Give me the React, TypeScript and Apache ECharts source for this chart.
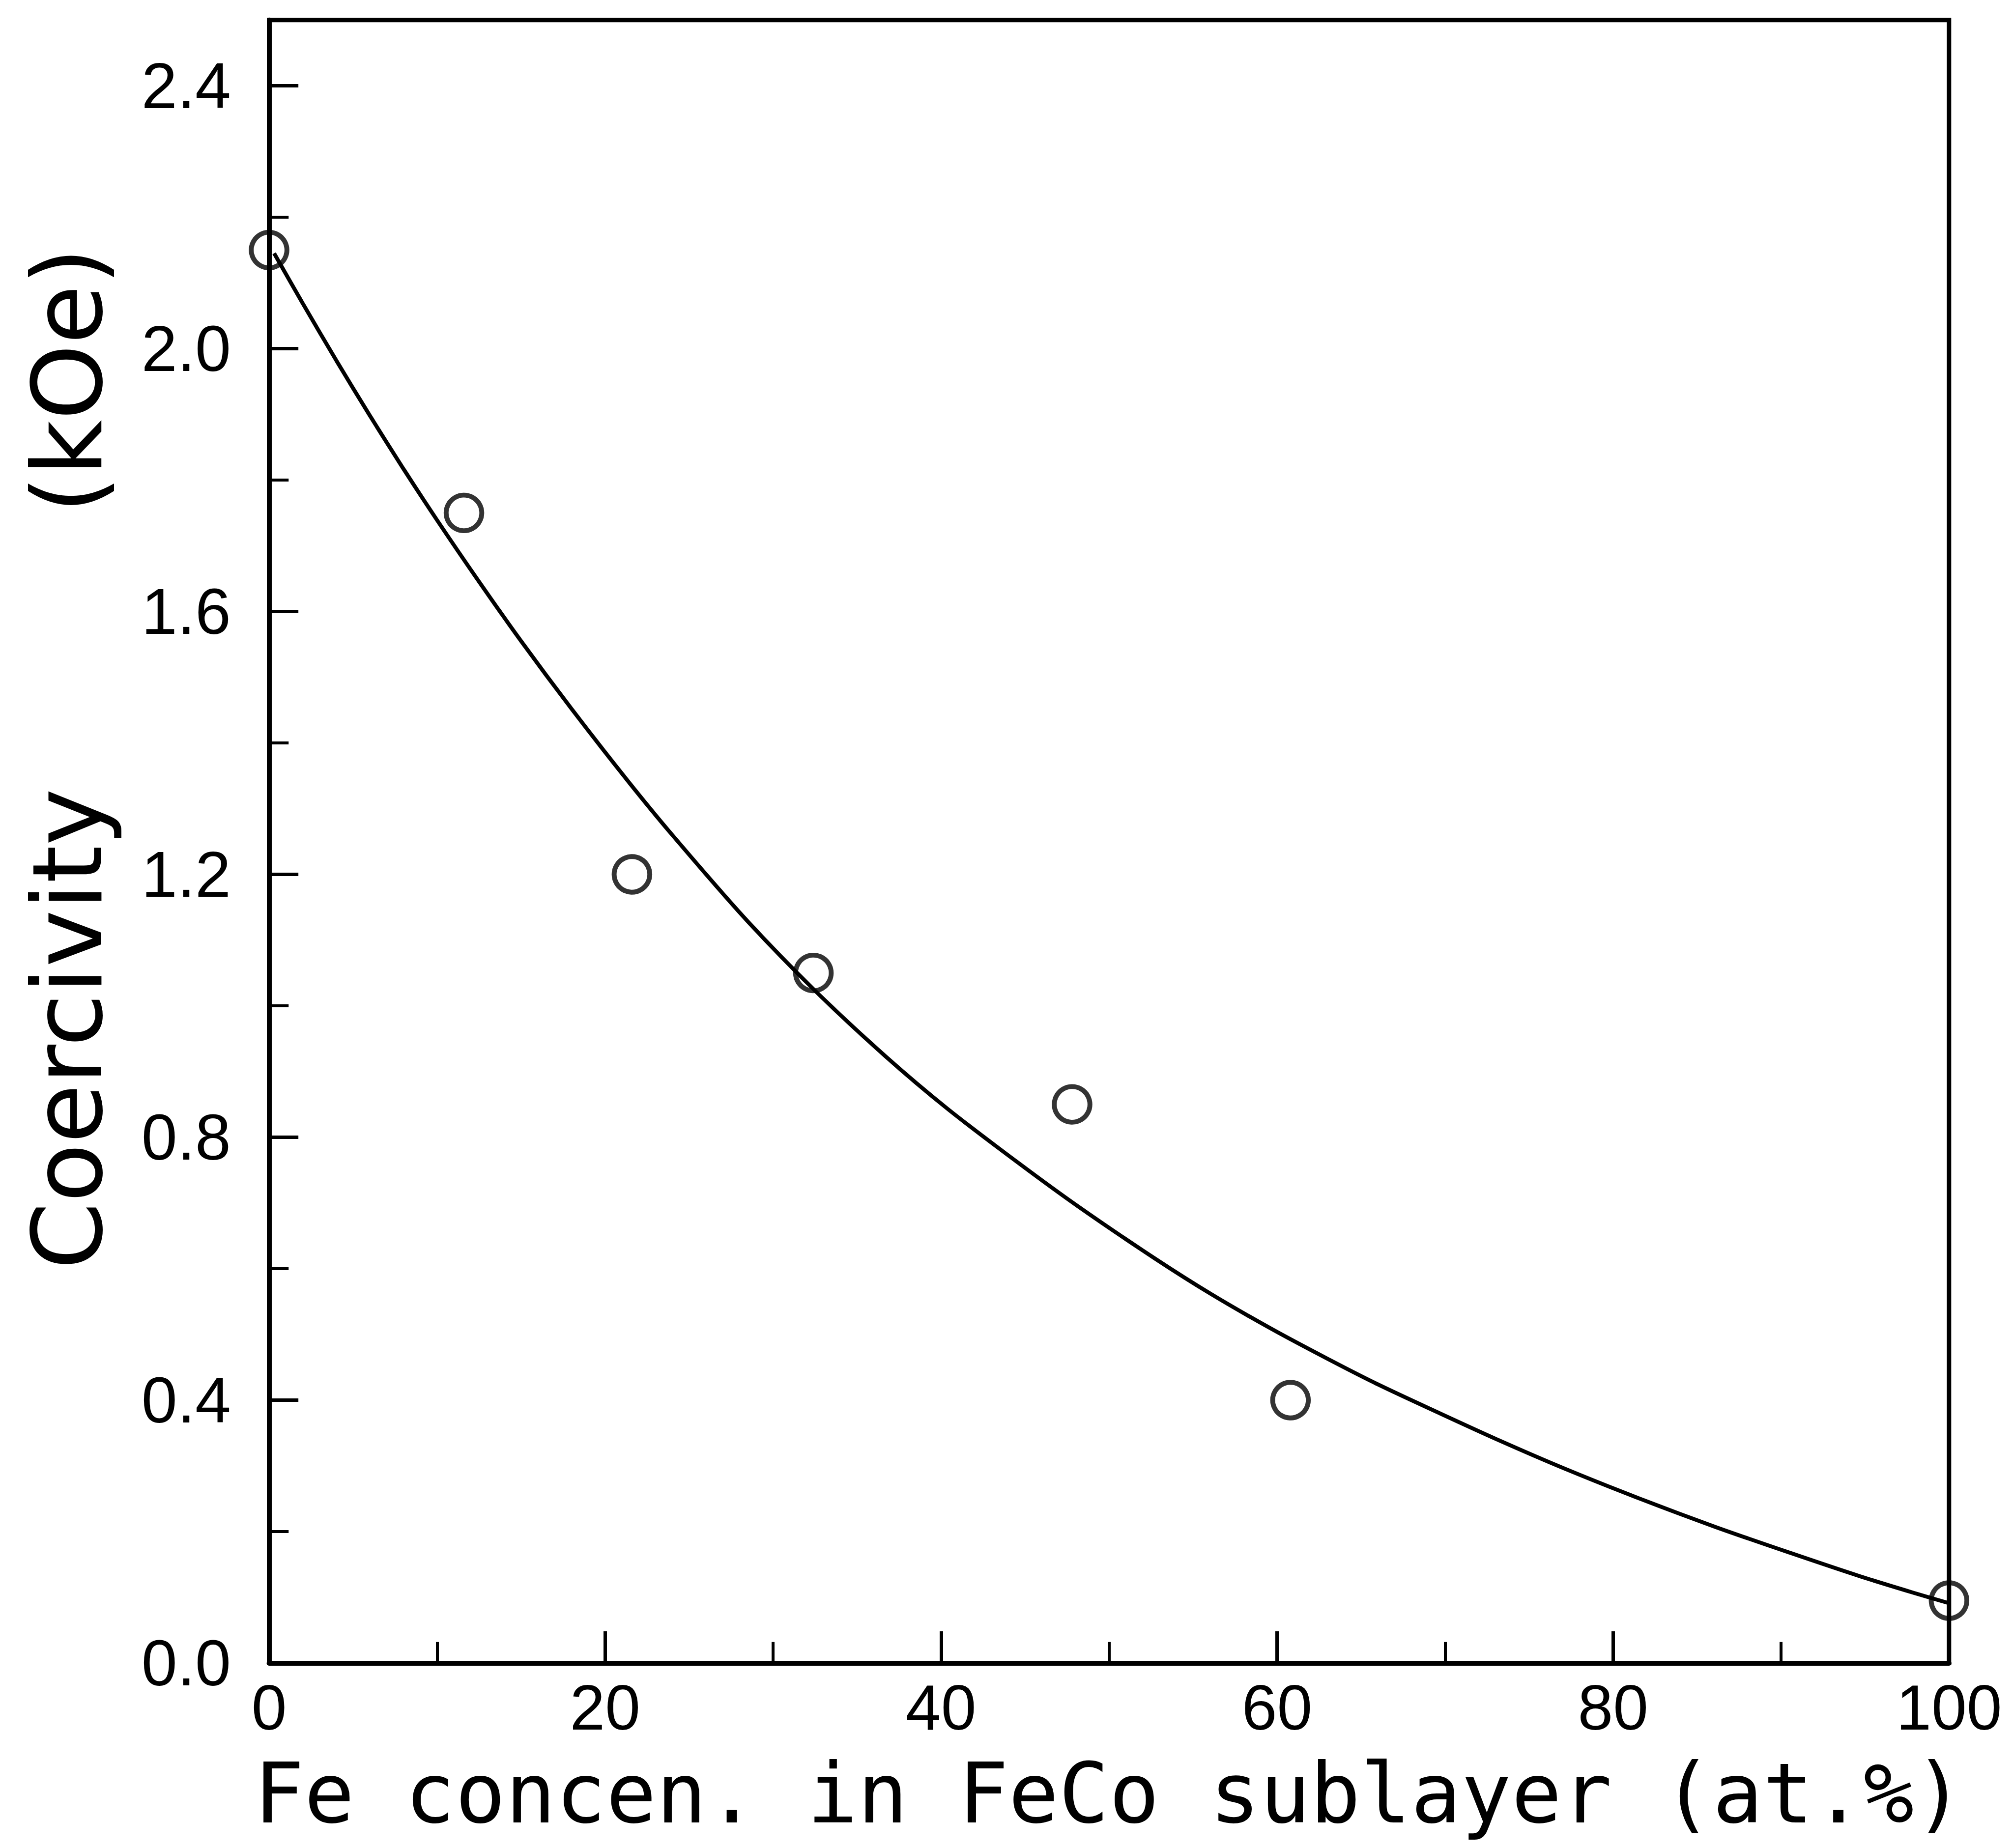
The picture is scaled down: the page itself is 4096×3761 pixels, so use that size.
import React, { useEffect, useRef } from 'react';
import * as echarts from 'echarts';

// Measured data points (Fe concentration at.%, coercivity kOe)
const pointX = [0, 11.6, 21.6, 32.4, 47.8, 60.8, 100];
const pointY = [2.15, 1.75, 1.2, 1.05, 0.85, 0.4, 0.095];

// Fitted curve
const curveX = [0.3, 2, 4, 6, 8, 10, 12.4, 15, 18, 21.3, 24, 28.4, 32.5, 36.7, 40.4, 44.6, 48.2, 52.7, 56.1, 59.7, 63, 66, 69.6, 73.2, 77.1, 81.6, 86.1, 90.5, 94.7, 98, 100];
const curveY = [2.145, 2.069, 1.982, 1.898, 1.817, 1.739, 1.649, 1.555, 1.452, 1.344, 1.26, 1.131, 1.023, 0.923, 0.843, 0.761, 0.694, 0.616, 0.561, 0.508, 0.463, 0.424, 0.381, 0.339, 0.296, 0.25, 0.207, 0.168, 0.132, 0.106, 0.091];

const xTitle = 'Fe concen. in FeCo sublayer (at.%)';
const yTitleMain = 'Coercivity';
const yTitleUnit = '(kOe)';

const W = 4096;
const H = 3761;
const S = W / 4122;

export default function App() {
  const ref = useRef<HTMLDivElement>(null);
  useEffect(() => {
    if (!ref.current) return;
    const chart = echarts.init(ref.current, undefined, { renderer: 'svg', width: W, height: H });
    const black = '#000';
    const titleFont = 'DejaVu Sans';
    const xTitleFont = 'DejaVu Sans Mono';
    const labelFont = 'Liberation Sans';
    const option: any = {
      animation: false,
      backgroundColor: '#ffffff',
      grid: {
        left: 551 * S,
        right: W - 3991 * S,
        top: 41 * S,
        bottom: H - 3406 * S,
        containLabel: false,
        outerBoundsMode: 'none',
        show: true,
        borderColor: black,
        borderWidth: 9 * S,
        backgroundColor: 'rgba(0,0,0,0)',
      },
      xAxis: {
        type: 'value',
        min: 0,
        max: 100,
        interval: 20,
        axisLine: { show: true, onZero: false, lineStyle: { color: black, width: 10 * S } },
        axisTick: { show: true, inside: true, length: 65 * S, lineStyle: { color: black, width: 7 * S } },
        minorTick: { show: true, splitNumber: 2, length: 43 * S, lineStyle: { color: black, width: 6 * S } },
        splitLine: { show: false },
        minorSplitLine: { show: false },
        axisLabel: { margin: 26, fontFamily: labelFont, fontSize: 129, color: black },
        name: xTitle,
        nameLocation: 'middle',
        nameGap: 180,
        nameMoveOverlap: false,
        nameTextStyle: { fontFamily: xTitleFont, fontSize: 170, color: black },
      },
      yAxis: [
        {
          type: 'value',
          min: 0,
          max: 2.5,
          interval: 0.4,
          position: 'left',
          axisLine: { show: true, onZero: false, lineStyle: { color: black, width: 10 * S } },
          axisTick: { show: true, inside: true, length: 60 * S, lineStyle: { color: black, width: 7 * S } },
          splitLine: { show: false },
          axisLabel: {
            margin: 78 * S,
            fontFamily: labelFont,
            fontSize: 132 * S,
            color: black,
            showMaxLabel: false,
            formatter: (v: number) => (v > 2.45 ? '' : v.toFixed(1)),
          },
          name: '{a|' + yTitleMain + '}{b|' + yTitleUnit + '}',
          nameLocation: 'middle',
          nameRotate: 90,
          nameGap: 312,
          nameMoveOverlap: false,
          nameTextStyle: {
            fontFamily: titleFont,
            fontSize: 196,
            color: black,
            rich: {
              a: { fontFamily: titleFont, fontSize: 196, color: black, padding: [0, 0, 0, 338] },
              b: { fontFamily: titleFont, fontSize: 196, color: black, padding: [0, 0, 0, 560] },
            },
          },
        },
        {
          type: 'value',
          min: 0,
          max: 2.5,
          interval: 0.2,
          position: 'left',
          offset: 0,
          axisLine: { show: false, onZero: false },
          axisTick: { show: true, inside: true, length: 40 * S, lineStyle: { color: black, width: 6 * S } },
          axisLabel: { show: false },
          splitLine: { show: false },
        },
      ],
      series: [
        {
          type: 'line',
          data: curveX.map((x, i) => [x, curveY[i]]),
          showSymbol: false,
          smooth: 0.3,
          clip: false,
          lineStyle: { color: black, width: 8 * S },
          z: 2,
        },
        {
          type: 'scatter',
          data: pointX.map((x, i) => [x, pointY[i]]),
          symbol: 'circle',
          symbolSize: 73 * S,
          clip: false,
          itemStyle: { color: 'rgba(0,0,0,0)', borderColor: black, borderWidth: 10 * S },
          z: 3,
        },
      ],
    };
    chart.setOption(option);
    return () => chart.dispose();
  }, []);
  return (
    <div
      ref={ref}
      style={{ position: 'absolute', left: 0, top: 0, width: W, height: H, background: '#fff' }}
    />
  );
}
